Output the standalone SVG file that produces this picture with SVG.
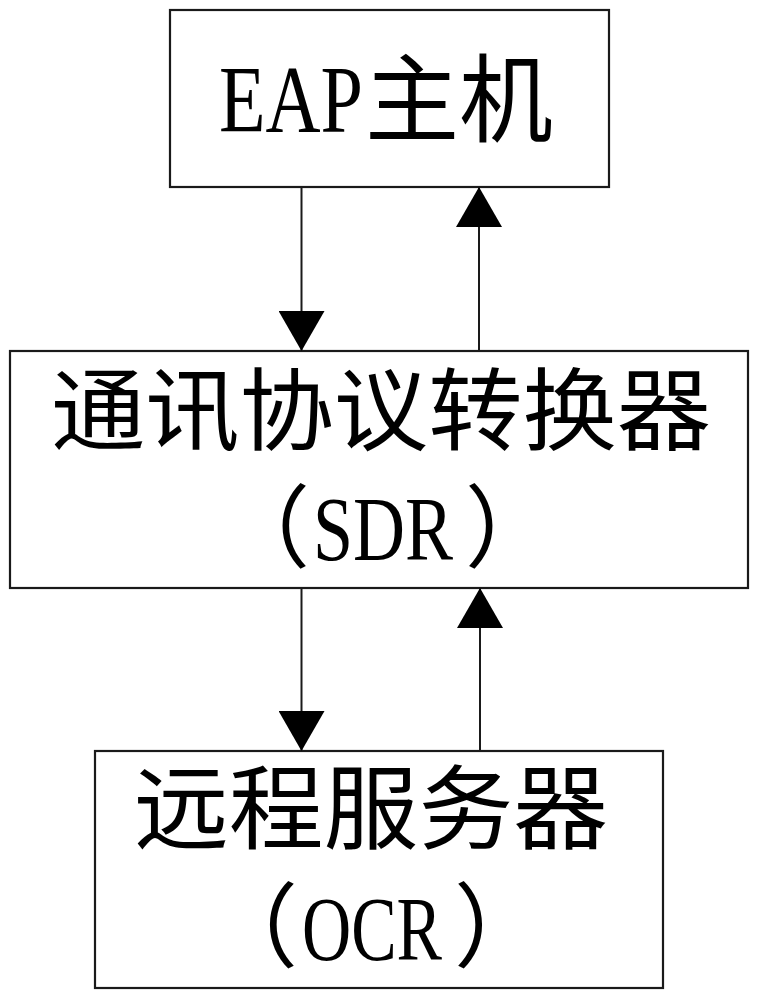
<svg xmlns="http://www.w3.org/2000/svg" width="760" height="1000" viewBox="0 0 760 1000">
  <style>
    .box { fill: #ffffff; stroke: #1a1a1a; stroke-width: 2.2; }
    .conn { stroke: #1a1a1a; stroke-width: 2; fill: none; }
    .cjk { font-family: "Noto Sans CJK SC", sans-serif; fill: #000; }
    .lat { font-family: "Liberation Serif", "Noto Sans CJK SC", serif; fill: #000; }
  </style>
  <defs>
    <marker id="ah" viewBox="0 0 40 46" refX="40" refY="23" markerWidth="40" markerHeight="46" markerUnits="userSpaceOnUse" orient="auto">
      <path d="M0,0 L40,23 L0,46 Z" fill="#000"/>
    </marker>
  </defs>
  <rect width="760" height="1000" fill="#ffffff"/>

  <g id="node-eap">
    <rect class="box" x="170" y="10" width="439" height="177"/>
    <text y="132" font-size="96"><tspan class="lat" x="219" textLength="144" lengthAdjust="spacingAndGlyphs">EAP</tspan><tspan class="cjk" x="365" y="134" textLength="188" lengthAdjust="spacingAndGlyphs">主机</tspan></text>
  </g>

  <g id="node-sdr">
    <rect class="box" x="10" y="351" width="738" height="237"/>
    <text class="cjk" x="51" y="443" font-size="90" textLength="660" lengthAdjust="spacingAndGlyphs">通讯协议转换器</text>
    <text y="560" font-size="90"><tspan class="cjk" x="220">（</tspan><tspan class="lat" x="313" textLength="140" lengthAdjust="spacingAndGlyphs">SDR</tspan><tspan class="cjk" x="465">）</tspan></text>
  </g>

  <g id="node-ocr">
    <rect class="box" x="95" y="751" width="568" height="237"/>
    <text class="cjk" x="134" y="842" font-size="92" textLength="474" lengthAdjust="spacingAndGlyphs">远程服务器</text>
    <text y="960" font-size="92"><tspan class="cjk" x="206">（</tspan><tspan class="lat" x="302" textLength="140" lengthAdjust="spacingAndGlyphs">OCR</tspan><tspan class="cjk" x="454">）</tspan></text>
  </g>

  <g id="connectors">
    <line class="conn" x1="301.5" y1="187" x2="301.5" y2="351" marker-end="url(#ah)"/>
    <line class="conn" x1="479" y1="351" x2="479" y2="187" marker-end="url(#ah)"/>
    <line class="conn" x1="301.5" y1="588" x2="301.5" y2="751" marker-end="url(#ah)"/>
    <line class="conn" x1="480" y1="751" x2="480" y2="588" marker-end="url(#ah)"/>
  </g>
</svg>
